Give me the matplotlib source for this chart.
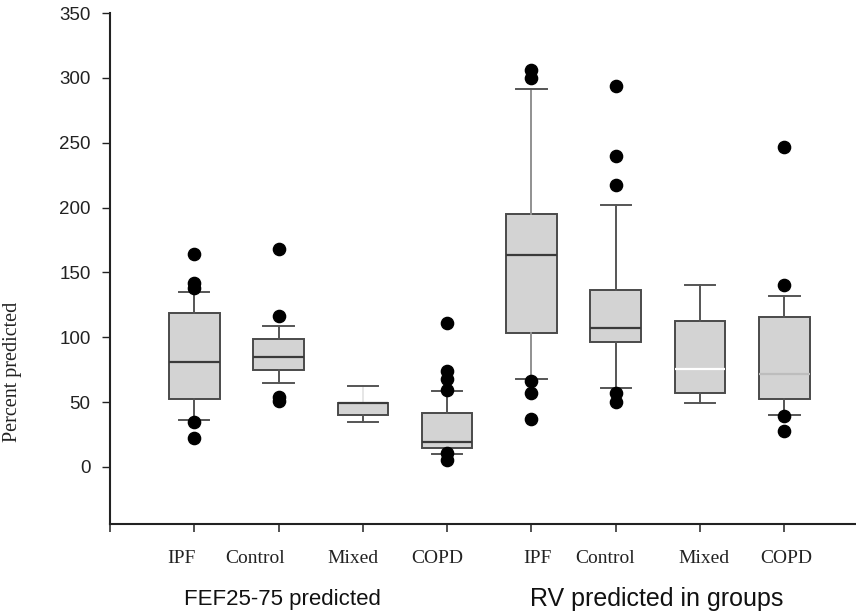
import matplotlib
matplotlib.use("Agg")
import matplotlib.pyplot as plt
from matplotlib.transforms import blended_transform_factory, offset_copy

# ---- data ----
positions = [1, 2, 3, 4, 5, 6, 7, 8]
categories = ['IPF', 'Control', 'Mixed', 'COPD', 'IPF', 'Control', 'Mixed', 'COPD']
groups = ['FEF25-75 predicted', 'RV predicted in groups']
med = [80.6, 84.5, 49.2, 19.6, 163.6, 107.2, 75.5, 71.6]
q1 = [52.3, 74.7, 40.0, 14.9, 103.6, 96.0, 56.7, 52.5]
q3 = [118.5, 98.4, 49.2, 41.2, 195.3, 136.5, 112.8, 115.4]
whislo = [36.0, 64.4, 34.3, 10.0, 67.5, 60.5, 49.2, 40.0]
whishi = [134.5, 108.7, 62.6, 58.7, 291.6, 201.7, 139.9, 132.1]
fliers = [[164, 142, 138, 35, 22],
          [168, 116, 54, 51],
          [],
          [111, 74, 68, 59, 11, 5],
          [306, 300, 66, 57, 37],
          [294, 240, 217, 57, 50],
          [],
          [247, 140, 39, 28]]
yticks = [0, 50, 100, 150, 200, 250, 300, 350]

# layout: horizontal nudges (pixels) of the category labels as in the reference
label_nudge_px = [-13, -24, -10, -10, 6, -11, 4, 2]

stats = []
for i in range(len(positions)):
    stats.append(dict(med=med[i], q1=q1[i], q3=q3[i], whislo=whislo[i],
                      whishi=whishi[i], fliers=fliers[i], label=categories[i]))

fig = plt.figure(figsize=(8.56, 6.14), dpi=100)
ax = fig.add_axes([110/856, 1-524/614, 1-110/856, (524-13)/614])

bp = ax.bxp(stats, positions=positions, widths=0.6, capwidths=0.36,
            patch_artist=True, showfliers=True,
            boxprops=dict(facecolor='#d3d3d3', edgecolor='#4a4a4a', linewidth=1.4),
            medianprops=dict(color='#3a3a3a', linewidth=1.6),
            whiskerprops=dict(color='#555555', linewidth=1.4),
            capprops=dict(color='#555555', linewidth=1.4),
            flierprops=dict(marker='o', markerfacecolor='black', markeredgecolor='black',
                            markersize=8.8, linestyle='none'))

# special median / whisker colours seen in the reference
bp['medians'][6].set_color('white')
bp['medians'][7].set_color('#bdbdbd')
bp['whiskers'][5].set_color('#e6e6e6')   # mixed FEF upper whisker barely visible
bp['whiskers'][8].set_color('#909090')
bp['whiskers'][9].set_color('#909090')

ax.set_xlim(0, 8.85)
ax.set_ylim(-44, 350)
for s in ['top', 'right']:
    ax.spines[s].set_visible(False)
for s in ['left', 'bottom']:
    ax.spines[s].set_linewidth(1.5)
    ax.spines[s].set_color('#222222')

ax.set_yticks(yticks)
ax.set_yticklabels([str(v) for v in yticks], fontsize=13.5, family='Liberation Sans', color='#222222')
ax.tick_params(axis='y', length=6, width=1.0, direction='out', pad=8, colors='#222222')

ax.set_xticks([0] + positions)
ax.set_xticklabels([])
ax.tick_params(axis='x', length=6, width=1.2, direction='out', colors='#333333')

ax.set_ylabel('Percent predicted', fontsize=14.5, family='Liberation Serif', color='#222222')
ax.yaxis.set_label_coords(-0.118, 0.298)

tr = blended_transform_factory(ax.transData, ax.transAxes)
for pos, cat, dx in zip(positions, categories, label_nudge_px):
    t = offset_copy(tr, fig=fig, x=dx, y=0, units='dots')
    ax.text(pos, -0.067, cat, transform=t, ha='center', va='center',
            fontsize=14, family='Liberation Serif', color='#222222')

ax.text(2.05, -0.147, groups[0], transform=tr, ha='center', va='center',
        fontsize=16, family='Liberation Sans', color='#111111')
ax.text(6.49, -0.147, groups[1], transform=tr, ha='center', va='center',
        fontsize=18, family='Liberation Sans', color='#111111')

fig.savefig('out.png', dpi=100)
